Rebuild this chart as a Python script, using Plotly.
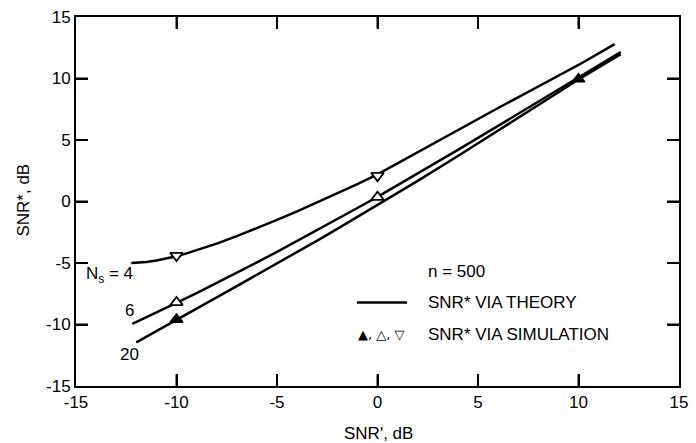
import plotly.graph_objects as go

# ---- data ----
x_ns4 = [-12.25, -11.5, -11, -10.5, -10, -9.5, -9, -8.5, -8, -7, -6, -5, -4, -3, -2, -1, 0, 1, 2, 3, 4, 6, 8, 10, 11.8]
y_ns4 = [-5.0, -4.92, -4.8, -4.65, -4.45, -4.22, -3.97, -3.7, -3.42, -2.82, -2.17, -1.5, -0.8, -0.08, 0.66, 1.42, 2.2, 3.1, 4.0, 4.95, 5.85, 7.6, 9.35, 11.1, 12.8]

x_ns6 = [-12.2, -11, -10, -9, -8, -7, -6, -5, -4, -3, -2, -1, 0, 2, 4, 6, 8, 10, 12.1]
y_ns6 = [-9.95, -9.05, -8.25, -7.45, -6.63, -5.8, -4.95, -4.1, -3.22, -2.33, -1.43, -0.53, 0.37, 2.27, 4.2, 6.15, 8.12, 10.12, 12.15]

x_ns20 = [-12.0, -11, -10, -9, -8, -7, -6, -5, -4, -3, -2, -1, 0, 2, 4, 6, 8, 10, 12.1]
y_ns20 = [-11.45, -10.52, -9.6, -8.7, -7.8, -6.88, -5.97, -5.05, -4.12, -3.18, -2.23, -1.26, -0.3, 1.68, 3.7, 5.75, 7.82, 9.92, 11.98]

sim_x_ns4 = [-10, 0]
sim_y_ns4 = [-4.4, 2.1]
sim_x_ns6 = [-10, 0]
sim_y_ns6 = [-8.2, 0.35]
sim_x_ns20 = [-10, 10]
sim_y_ns20 = [-9.6, 9.95]

curve_labels = ["N<sub>s</sub> = 4", "6", "20"]
tick_vals = [-15, -10, -5, 0, 5, 10, 15]
tick_text = ["-15", "-10", "-5", "0", "5", "10", "15"]

FONT = "Liberation Sans, Arial, Helvetica, sans-serif"
FS = 17
TICKLEN = 12
W, H = 696, 443
ML, MR, MT, MB = 76, 15, 8, 57
XMIN, XMAX, YMIN, YMAX = -15, 15, -15, 15

fig = go.Figure()

for xs, ys in [(x_ns4, y_ns4), (x_ns6, y_ns6), (x_ns20, y_ns20)]:
    fig.add_trace(go.Scatter(x=xs, y=ys, mode="lines", line=dict(color="black", width=2.5),
                             showlegend=False, hoverinfo="skip"))

fig.add_trace(go.Scatter(x=sim_x_ns4, y=sim_y_ns4, mode="markers",
                         marker=dict(symbol="triangle-down", size=11, color="white", line=dict(color="black", width=1.8)),
                         showlegend=False))
fig.add_trace(go.Scatter(x=sim_x_ns6, y=sim_y_ns6, mode="markers",
                         marker=dict(symbol="triangle-up", size=11, color="white", line=dict(color="black", width=1.8)),
                         showlegend=False))
fig.add_trace(go.Scatter(x=sim_x_ns20, y=sim_y_ns20, mode="markers",
                         marker=dict(symbol="triangle-up", size=11, color="black", line=dict(color="black", width=1.5)),
                         showlegend=False))

axis_common = dict(tickmode="array", tickvals=tick_vals, ticktext=tick_text,
                   ticks="inside", ticklen=TICKLEN, tickwidth=2, tickcolor="black",
                   showline=True, linecolor="black", linewidth=2,
                   mirror="ticks", showgrid=False, zeroline=False,
                   tickfont=dict(family=FONT, size=FS, color="black"))

fig.update_xaxes(range=[XMIN, XMAX], **axis_common)
fig.update_yaxes(range=[YMIN, YMAX], **axis_common)

# inside tick marks on all four sides as paper-coordinate shapes derived from tick_vals
fx = TICKLEN / (W - ML - MR)
fy = TICKLEN / (H - MT - MB)
tick_line = dict(color="black", width=2)
shapes = []
for v in tick_vals[1:-1]:
    px = (v - XMIN) / (XMAX - XMIN)
    py = (v - YMIN) / (YMAX - YMIN)
    shapes.append(dict(type="line", xref="paper", yref="paper", x0=px, x1=px, y0=0, y1=fy, line=tick_line))
    shapes.append(dict(type="line", xref="paper", yref="paper", x0=px, x1=px, y0=1, y1=1 - fy, line=tick_line))
    shapes.append(dict(type="line", xref="paper", yref="paper", x0=0, x1=fx, y0=py, y1=py, line=tick_line))
    shapes.append(dict(type="line", xref="paper", yref="paper", x0=1, x1=1 - fx, y0=py, y1=py, line=tick_line))

# legend sample line
shapes.append(dict(type="line", xref="paper", yref="paper", x0=0.466, x1=0.549, y0=0.226, y1=0.226,
                   line=dict(color="black", width=2.5)))

ann_font = dict(family=FONT, size=FS, color="black")
annotations = [
    dict(x=-14.6, y=-5.95, xref="x", yref="y", text=curve_labels[0], showarrow=False, xanchor="left", yanchor="middle", font=ann_font),
    dict(x=-12.32, y=-8.9, xref="x", yref="y", text=curve_labels[1], showarrow=False, xanchor="center", yanchor="middle", font=ann_font),
    dict(x=-12.32, y=-12.4, xref="x", yref="y", text=curve_labels[2], showarrow=False, xanchor="center", yanchor="middle", font=ann_font),
    dict(x=0.580, y=0.3095, xref="paper", yref="paper", text="n = 500", showarrow=False, xanchor="left", yanchor="middle", font=ann_font),
    dict(x=0.580, y=0.2275, xref="paper", yref="paper", text="SNR* VIA THEORY", showarrow=False, xanchor="left", yanchor="middle", font=ann_font),
    dict(x=0.4645, y=0.140, xref="paper", yref="paper", text="▲, △, ▽", showarrow=False, xanchor="left", yanchor="middle",
         font=dict(family="DejaVu Sans", size=13, color="black")),
    dict(x=0.580, y=0.140, xref="paper", yref="paper", text="SNR* VIA SIMULATION", showarrow=False, xanchor="left", yanchor="middle", font=ann_font),
    dict(x=0.502, y=-0.13, xref="paper", yref="paper", text="SNR', dB", showarrow=False, xanchor="center", yanchor="middle", font=ann_font),
    dict(x=-0.0876, y=0.503, xref="paper", yref="paper", text="SNR*, dB", showarrow=False, xanchor="center", yanchor="middle",
         textangle=-90, font=ann_font),
]

fig.update_layout(
    width=W, height=H,
    margin=dict(l=ML, r=MR, t=MT, b=MB),
    paper_bgcolor="white", plot_bgcolor="white",
    annotations=annotations,
    shapes=shapes,
    showlegend=False,
)

fig.write_html("out.html")
